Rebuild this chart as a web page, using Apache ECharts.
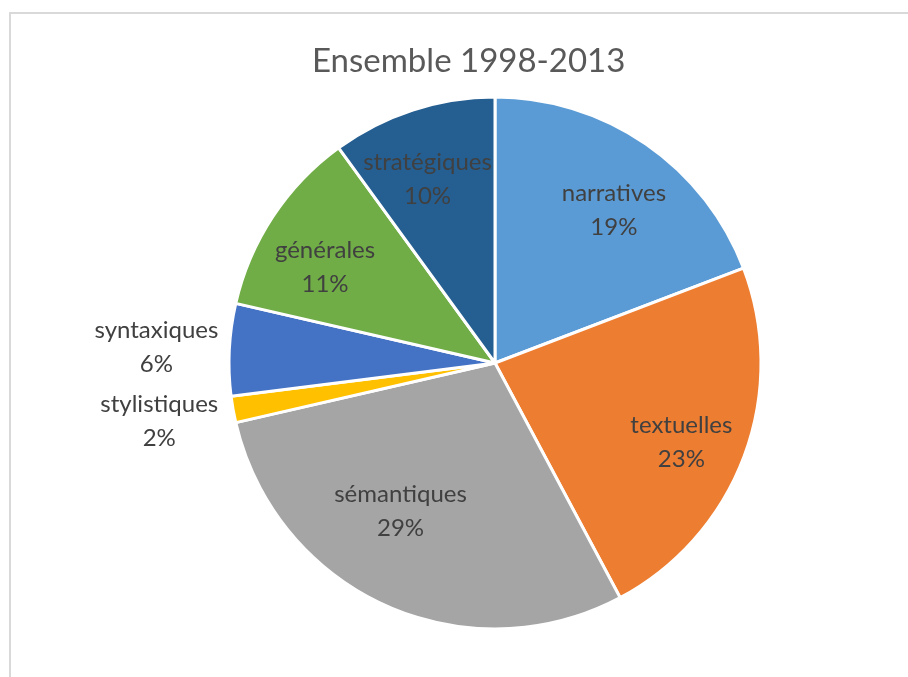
<!DOCTYPE html>
<html><head><meta charset="utf-8">
<script src="https://cdn.jsdelivr.net/npm/echarts@6/dist/echarts.min.js"></script>
<style>
html,body{margin:0;padding:0;background:#fff;}
#frame{position:absolute;left:9px;top:12px;width:920px;height:700px;border-top:2px solid #d9d9d9;border-left:2px solid #d9d9d9;}
#main{position:absolute;left:0;top:0;width:908px;height:677px;}
</style>
</head><body>
<div id="frame"></div>
<div id="main"></div>
<script>
const titleText = 'Ensemble 1998-2013';
const categories = ['narratives','textuelles','sémantiques','stylistiques','syntaxiques','générales','stratégiques'];
const values = [19.2, 23.0, 29.2, 1.6, 5.6, 11.4, 10.0];
const colors = ['#5B9BD5','#ED7D31','#A5A5A5','#FFC000','#4472C4','#70AD47','#255E91'];
const outsideLabels = ['stylistiques','syntaxiques'];
const labelOffsets = [[6,11],[0,10],[-12,-33],[0,-1],[2,1],[-4,14],[-6,6]];

const font = 'Lato, "Open Sans", sans-serif';
const center = [495, 363];
const R = 266;
const fmt = p => p.name + '\n' + Math.round(p.percent) + '%';

const chart = echarts.init(document.getElementById('main'), null, {renderer:'canvas'});
const baseData = categories.map((c,i)=>({name:c, value:values[i], itemStyle:{color:colors[i]}}));
const innerData = categories.map((c,i)=>({name:c, value:values[i], label:{show: outsideLabels.indexOf(c)<0, offset:labelOffsets[i]}}));
const outerData = categories.map((c,i)=>({name:c, value:values[i], label:{show: outsideLabels.indexOf(c)>=0, offset:labelOffsets[i]}}));
const labelStyle = {position:'inside', formatter:fmt, fontFamily:font, fontSize:24, color:'#404040', lineHeight:34, align:'center'};

chart.setOption({
  animation:false,
  title:{text:titleText, left:307, top:40, textStyle:{fontFamily:font, fontSize:33, fontWeight:'normal', color:'#595959'}},
  series:[
    {type:'pie', center:center, radius:[0,R], startAngle:90, clockwise:true, silent:true,
     itemStyle:{borderColor:'#fff', borderWidth:3}, label:{show:false}, labelLine:{show:false}, data:baseData},
    {type:'pie', center:center, radius:[0,392], startAngle:90, clockwise:true, silent:true,
     itemStyle:{color:'rgba(0,0,0,0)', borderWidth:0}, labelLine:{show:false}, label:labelStyle, data:innerData},
    {type:'pie', center:center, radius:[0,676], startAngle:90, clockwise:true, silent:true,
     itemStyle:{color:'rgba(0,0,0,0)', borderWidth:0}, labelLine:{show:false}, label:labelStyle, data:outerData}
  ]
});
</script>
</body></html>
